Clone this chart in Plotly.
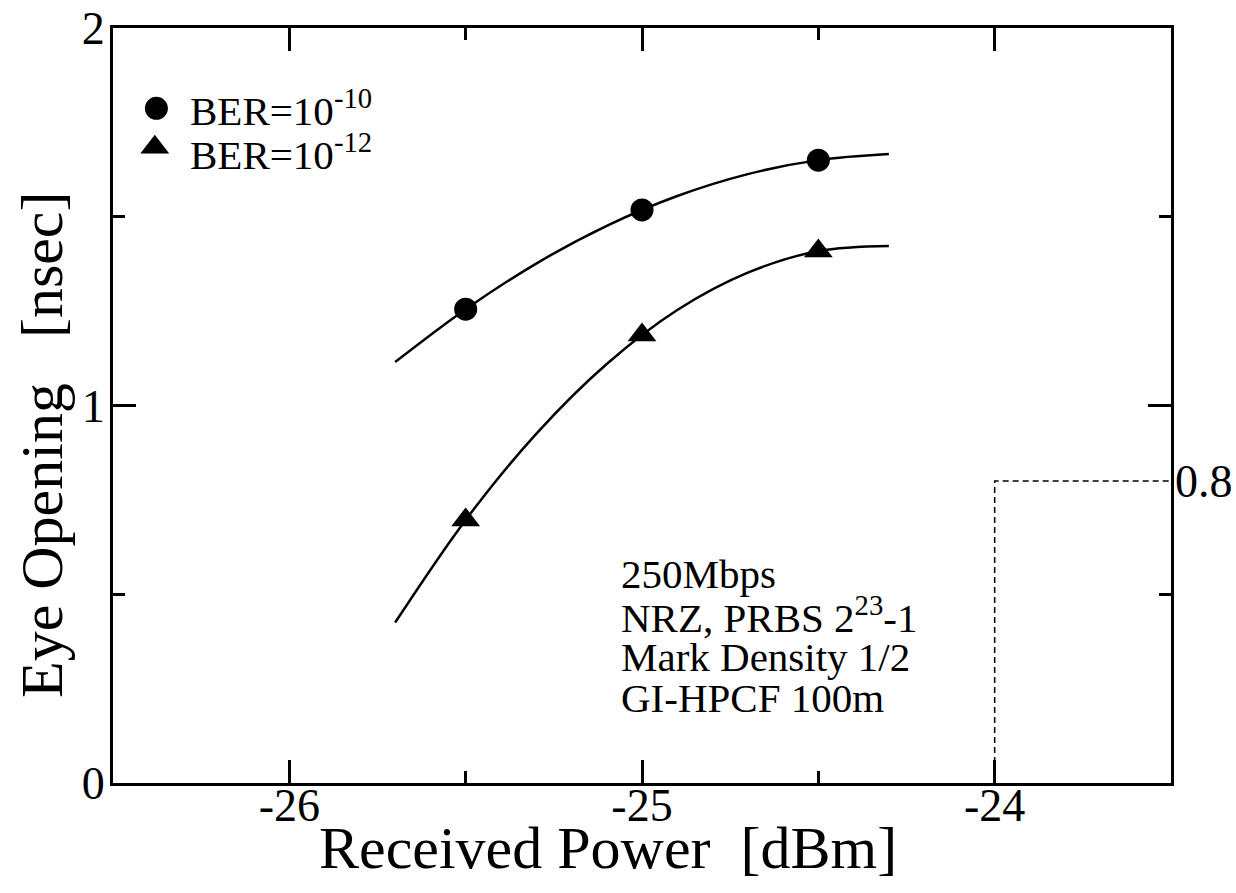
import plotly.graph_objects as go

# ---- data ----
power_points = [-25.5, -25.0, -24.5]
eye_ber10 = [1.255, 1.518, 1.650]
eye_ber12 = [0.697, 1.187, 1.409]

curve10_x = [-25.70, -25.50, -25.30, -25.10, -24.90, -24.70, -24.50, -24.30]
curve10_y = [1.115, 1.255, 1.376, 1.476, 1.555, 1.613, 1.650, 1.666]

curve12_x = [-25.70, -25.50, -25.30, -25.10, -24.90, -24.70, -24.50, -24.30]
curve12_y = [0.425, 0.697, 0.925, 1.110, 1.253, 1.352, 1.409, 1.4225]

limit_x = [-24.0, -24.0, -23.5]
limit_y = [0.0, 0.8, 0.8]

x_ticks = [-26, -25, -24]
x_tick_labels = ["-26", "-25", "-24"]
y_ticks = [0, 1, 2]
y_tick_labels = ["0", "1", "2"]
conditions = ["250Mbps", "NRZ, PRBS 2<sup>23</sup>-1", "Mark Density 1/2", "GI-HPCF 100m"]
legend_labels = ["BER=10<sup>-10</sup>", "BER=10<sup>-12</sup>"]
x_title = "Received Power\u00a0\u00a0[dBm]"
y_title = "Eye Opening\u00a0\u00a0\u00a0[nsec]"

FONT = "Liberation Serif"
BLACK = "#000000"

fig = go.Figure()
fig.add_trace(go.Scatter(x=curve10_x, y=curve10_y, mode="lines",
                         line=dict(color=BLACK, width=2.5, shape="spline", smoothing=1.0),
                         showlegend=False, hoverinfo="skip"))
fig.add_trace(go.Scatter(x=curve12_x, y=curve12_y, mode="lines",
                         line=dict(color=BLACK, width=2.5, shape="spline", smoothing=1.0),
                         showlegend=False, hoverinfo="skip"))
fig.add_trace(go.Scatter(x=power_points, y=eye_ber10, mode="markers",
                         marker=dict(symbol="circle", size=23, color=BLACK, opacity=1,
                                     line=dict(width=0)),
                         showlegend=False))
fig.add_trace(go.Scatter(x=power_points, y=eye_ber12, mode="markers",
                         marker=dict(symbol="triangle-up", size=25, color=BLACK, opacity=1,
                                     line=dict(width=0)),
                         showlegend=False))
fig.add_trace(go.Scatter(x=limit_x, y=limit_y, mode="lines",
                         line=dict(color=BLACK, width=1.5, dash="6px,4px"),
                         cliponaxis=False, showlegend=False, hoverinfo="skip"))

# manual legend keys on a hidden overlay axis (layout coordinates 0..1)
fig.add_trace(go.Scatter(x=[0.041, 0.0395], y=[0.8936, 0.842], mode="markers",
                         marker=dict(symbol=["circle", "triangle-up"], size=[23, 25],
                                     color=BLACK, opacity=1, line=dict(width=0)),
                         xaxis="x2", yaxis="y2", showlegend=False, hoverinfo="skip"))

annotations = []
for lab, yy in zip(legend_labels, [0.8936, 0.836]):
    annotations.append(dict(xref="paper", yref="paper", x=0.0709, y=yy,
                            xanchor="left", yanchor="middle", showarrow=False,
                            text=lab, font=dict(family=FONT, size=41, color=BLACK)))
for lab, yy in zip(conditions, [0.554, 0.444, 0.334, 0.225]):
    annotations.append(dict(xref="x", yref="y", x=-25.064, y=yy,
                            xanchor="left", yanchor="middle", showarrow=False,
                            text=lab, font=dict(family=FONT, size=41, color=BLACK)))
annotations.append(dict(xref="paper", yref="y", x=1.0, y=0.8, xanchor="left", yanchor="middle",
                        xshift=2, showarrow=False, text="0.8",
                        font=dict(family=FONT, size=46, color=BLACK)))
# axis titles (placed as in the reference)
annotations.append(dict(xref="paper", yref="paper", x=(608 - 113) / 1058, y=-(848 - 783) / 755,
                        xanchor="center", yanchor="middle", showarrow=False, text=x_title,
                        font=dict(family=FONT, size=60, color=BLACK)))
annotations.append(dict(xref="paper", yref="paper", x=-(113 - 42) / 1058, y=(783 - 445) / 755,
                        xanchor="center", yanchor="middle", showarrow=False, text=y_title,
                        textangle=-90, font=dict(family=FONT, size=60, color=BLACK)))
fig.update_layout(annotations=annotations)

axis_common = dict(showline=True, linewidth=3, linecolor=BLACK, mirror="allticks",
                   ticks="inside", ticklen=23, tickwidth=2.5, tickcolor=BLACK,
                   showgrid=False, zeroline=False, automargin=False,
                   ticklabeloverflow="allow",
                   tickfont=dict(family=FONT, size=46, color=BLACK))

fig.update_layout(
    width=1236, height=893,
    margin=dict(l=113, r=65, t=28, b=110, autoexpand=False),
    paper_bgcolor="white", plot_bgcolor="white",
    xaxis=dict(range=[-26.5, -23.5], tickvals=x_ticks, ticktext=x_tick_labels,
               ticklabelstandoff=-20,
               minor=dict(dtick=0.5, ticks="inside", ticklen=12, tickwidth=2.5, tickcolor=BLACK, showgrid=False),
               **axis_common),
    yaxis=dict(range=[0, 2], tickvals=y_ticks, ticktext=y_tick_labels,
               ticklabelstandoff=-4,
               minor=dict(dtick=0.5, ticks="inside", ticklen=12, tickwidth=2.5, tickcolor=BLACK, showgrid=False),
               **axis_common),
    xaxis2=dict(range=[0, 1], overlaying="x", visible=False),
    yaxis2=dict(range=[0, 1], overlaying="y", visible=False),
    showlegend=False,
)

# remove the browser's default 8px page margin so the figure fills the window exactly
fig.write_html("out.html", config={"displayModeBar": False},
               post_script="document.body.style.margin='0';")
